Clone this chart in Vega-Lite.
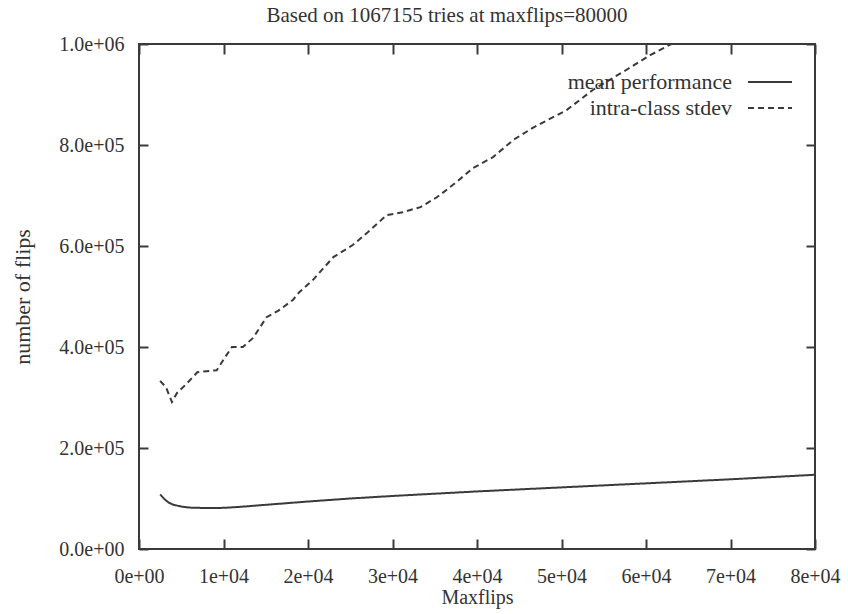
{
  "$schema": "https://vega.github.io/schema/vega-lite/v6.json",
  "autosize": {"type": "none"},
  "padding": {"left": 139, "top": 44, "right": 33, "bottom": 65},
  "width": 676,
  "height": 505,
  "background": "white",
  "title": {"text": "Based on 1067155 tries at maxflips=80000", "font": "Liberation Serif", "fontSize": 21, "fontWeight": "normal", "color": "#333", "offset": 8, "dx": -30},
  "datasets": {
    "curves": [
      {"x": 2500, "y": 108000, "series": "mean performance"},
      {"x": 3000, "y": 99000, "series": "mean performance"},
      {"x": 3500, "y": 92000, "series": "mean performance"},
      {"x": 4000, "y": 88000, "series": "mean performance"},
      {"x": 5000, "y": 84000, "series": "mean performance"},
      {"x": 6000, "y": 82000, "series": "mean performance"},
      {"x": 8000, "y": 81000, "series": "mean performance"},
      {"x": 10000, "y": 81500, "series": "mean performance"},
      {"x": 12000, "y": 83500, "series": "mean performance"},
      {"x": 15000, "y": 87500, "series": "mean performance"},
      {"x": 20000, "y": 94000, "series": "mean performance"},
      {"x": 25000, "y": 100000, "series": "mean performance"},
      {"x": 30000, "y": 105000, "series": "mean performance"},
      {"x": 40000, "y": 114000, "series": "mean performance"},
      {"x": 50000, "y": 122000, "series": "mean performance"},
      {"x": 60000, "y": 130000, "series": "mean performance"},
      {"x": 70000, "y": 138000, "series": "mean performance"},
      {"x": 80000, "y": 147000, "series": "mean performance"},
      {"x": 2500, "y": 333000, "series": "intra-class stdev"},
      {"x": 3200, "y": 320000, "series": "intra-class stdev"},
      {"x": 3900, "y": 291000, "series": "intra-class stdev"},
      {"x": 4500, "y": 309000, "series": "intra-class stdev"},
      {"x": 5500, "y": 325000, "series": "intra-class stdev"},
      {"x": 6900, "y": 350000, "series": "intra-class stdev"},
      {"x": 8000, "y": 352000, "series": "intra-class stdev"},
      {"x": 9200, "y": 354000, "series": "intra-class stdev"},
      {"x": 10200, "y": 380000, "series": "intra-class stdev"},
      {"x": 11000, "y": 400000, "series": "intra-class stdev"},
      {"x": 12300, "y": 400000, "series": "intra-class stdev"},
      {"x": 13500, "y": 418000, "series": "intra-class stdev"},
      {"x": 15100, "y": 459000, "series": "intra-class stdev"},
      {"x": 16500, "y": 472000, "series": "intra-class stdev"},
      {"x": 18200, "y": 493000, "series": "intra-class stdev"},
      {"x": 19000, "y": 509000, "series": "intra-class stdev"},
      {"x": 20600, "y": 533000, "series": "intra-class stdev"},
      {"x": 23000, "y": 578000, "series": "intra-class stdev"},
      {"x": 25300, "y": 602000, "series": "intra-class stdev"},
      {"x": 27000, "y": 626000, "series": "intra-class stdev"},
      {"x": 29300, "y": 661000, "series": "intra-class stdev"},
      {"x": 31200, "y": 667000, "series": "intra-class stdev"},
      {"x": 33300, "y": 677000, "series": "intra-class stdev"},
      {"x": 35300, "y": 697000, "series": "intra-class stdev"},
      {"x": 37600, "y": 727000, "series": "intra-class stdev"},
      {"x": 39500, "y": 754000, "series": "intra-class stdev"},
      {"x": 41900, "y": 776000, "series": "intra-class stdev"},
      {"x": 44300, "y": 810000, "series": "intra-class stdev"},
      {"x": 46600, "y": 834000, "series": "intra-class stdev"},
      {"x": 50600, "y": 869000, "series": "intra-class stdev"},
      {"x": 53700, "y": 909000, "series": "intra-class stdev"},
      {"x": 57700, "y": 949000, "series": "intra-class stdev"},
      {"x": 60500, "y": 978000, "series": "intra-class stdev"},
      {"x": 63000, "y": 1000000, "series": "intra-class stdev"}
    ]
  },
  "data": {"name": "curves"},
  "layer": [
    {
      "mark": {"type": "line", "stroke": "#3a3a3a", "strokeWidth": 2, "clip": true},
      "encoding": {
        "x": {"field": "x", "type": "quantitative", "scale": {"domain": [0, 80000], "nice": false, "zero": false},
              "axis": {"title": "Maxflips", "values": [0, 10000, 20000, 30000, 40000, 50000, 60000, 70000, 80000], "labelExpr": "replace(format(datum.value, '.0e'), 'e+', 'e+0')", "tickSize": -10, "labelPadding": 27, "labelFlush": false, "labelOverlap": false, "titlePadding": 1}},
        "y": {"field": "y", "type": "quantitative", "scale": {"domain": [0, 1000000], "nice": false},
              "axis": {"title": "number of flips", "titleFontSize": 22, "values": [0, 200000, 400000, 600000, 800000, 1000000], "labelExpr": "replace(format(datum.value, '.1e'), 'e+', 'e+0')", "tickSize": -9, "labelPadding": 24, "labelFlush": false, "labelOverlap": false, "titlePadding": 24}},
        "strokeDash": {"field": "series", "type": "nominal",
          "scale": {"domain": ["mean performance", "intra-class stdev"], "range": [[1, 0], [6, 4]]},
          "legend": {"title": null, "orient": "none", "legendX": 619, "legendY": 26, "symbolType": "M-2,0L2,0", "symbolSize": 484, "symbolStrokeWidth": 2, "symbolStrokeColor": "#3a3a3a", "labelAlign": "right", "labelOffset": -50, "labelLimit": 400, "labelFont": "Liberation Serif", "labelFontSize": 22, "labelColor": "#333", "rowPadding": 3, "padding": 0}}
      }
    },
    {
      "mark": {"type": "line", "strokeOpacity": 0, "clip": true},
      "encoding": {
        "x": {"field": "x", "type": "quantitative", "scale": {"domain": [0, 80000], "nice": false, "zero": false},
              "axis": {"orient": "top", "title": null, "labels": false, "values": [0, 10000, 20000, 30000, 40000, 50000, 60000, 70000, 80000], "tickSize": -10}},
        "y": {"field": "y", "type": "quantitative", "scale": {"domain": [0, 1000000], "nice": false},
              "axis": {"orient": "right", "title": null, "labels": false, "values": [0, 200000, 400000, 600000, 800000, 1000000], "tickSize": -9}},
        "detail": {"field": "series"}
      }
    }
  ],
  "resolve": {"axis": {"x": "independent", "y": "independent"}},
  "config": {
    "view": {"stroke": "#3a3a3a", "strokeWidth": 2},
    "axis": {"domain": false, "grid": false, "tickColor": "#3a3a3a", "tickWidth": 2, "labelFont": "Liberation Serif", "labelFontSize": 20, "labelColor": "#333", "titleFont": "Liberation Serif", "titleFontSize": 20, "titleFontWeight": "normal", "titleColor": "#333"}
  }
}
